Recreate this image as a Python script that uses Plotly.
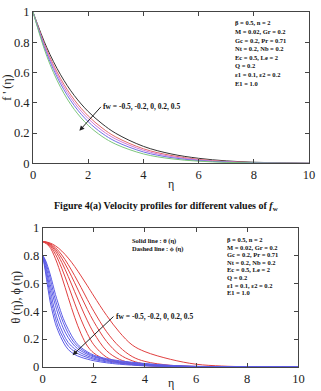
import plotly.graph_objects as go

W, H = 321, 391

# ---- Top chart: velocity profiles f'(eta) ----
eta_top = [0, 0.5, 1, 1.5, 2, 2.5, 3, 4, 5, 6, 7, 8, 9, 10]
fp_black = [1, 0.765, 0.585, 0.447, 0.342, 0.262, 0.198, 0.112, 0.062, 0.033, 0.016, 0.007, 0.003, 0]
fp_red = [1, 0.748, 0.560, 0.419, 0.313, 0.234, 0.174, 0.096, 0.052, 0.026, 0.012, 0.005, 0.002, 0]
fp_magenta = [1, 0.737, 0.543, 0.400, 0.295, 0.217, 0.160, 0.086, 0.045, 0.022, 0.010, 0.004, 0.001, 0]
fp_blue = [1, 0.724, 0.525, 0.380, 0.275, 0.199, 0.144, 0.075, 0.038, 0.018, 0.008, 0.003, 0.001, 0]
fp_green = [1, 0.708, 0.502, 0.355, 0.251, 0.178, 0.126, 0.062, 0.030, 0.014, 0.006, 0.002, 0.001, 0]
top_series = [fp_black, fp_red, fp_magenta, fp_blue, fp_green]
top_colors = ["#333333", "#e06a6a", "#d27ad6", "#6f6fe6", "#7cc47c"]

# ---- Bottom chart: theta (red) and phi (blue) ----
eta_theta = [0, 0.25, 0.5, 0.75, 1.0, 1.25, 1.5, 1.75, 2.0, 2.5, 3.0, 3.5, 4.0, 5.0, 6.0, 7.0, 8.0, 10.0]
theta_1 = [0.9, 0.867, 0.776, 0.645, 0.498, 0.357, 0.238, 0.150, 0.100, 0.050, 0.030, 0.018, 0.010, 0.004, 0.001, 0, 0, 0]
theta_2 = [0.9, 0.876, 0.808, 0.706, 0.584, 0.458, 0.340, 0.239, 0.159, 0.070, 0.035, 0.020, 0.012, 0.005, 0.002, 0.001, 0, 0]
theta_3 = [0.9, 0.882, 0.830, 0.749, 0.649, 0.540, 0.432, 0.331, 0.244, 0.117, 0.055, 0.028, 0.015, 0.006, 0.002, 0.001, 0, 0]
theta_4 = [0.9, 0.886, 0.844, 0.779, 0.697, 0.604, 0.507, 0.412, 0.325, 0.183, 0.091, 0.045, 0.022, 0.008, 0.003, 0.001, 0, 0]
theta_5 = [0.9, 0.888, 0.856, 0.803, 0.734, 0.655, 0.571, 0.483, 0.400, 0.253, 0.145, 0.075, 0.040, 0.012, 0.004, 0.001, 0, 0]
theta_6 = [0.9, 0.892, 0.869, 0.831, 0.781, 0.721, 0.653, 0.582, 0.509, 0.370, 0.250, 0.158, 0.110, 0.055, 0.020, 0.007, 0.002, 0]
theta_series = [theta_1, theta_2, theta_3, theta_4, theta_5, theta_6]

eta_phi = [0, 0.1, 0.2, 0.3, 0.4, 0.5, 0.6, 0.8, 1.0, 1.25, 1.5, 2.0, 2.5, 3, 4, 5, 6, 8, 10]
phi_1 = [0.8, 0.69, 0.57, 0.46, 0.38, 0.31, 0.26, 0.18, 0.125, 0.09, 0.07, 0.045, 0.03, 0.02, 0.008, 0.003, 0.001, 0, 0]
phi_2 = [0.8, 0.71, 0.61, 0.50, 0.42, 0.35, 0.29, 0.21, 0.15, 0.11, 0.085, 0.055, 0.037, 0.026, 0.011, 0.004, 0.002, 0, 0]
phi_3 = [0.8, 0.73, 0.64, 0.55, 0.46, 0.39, 0.33, 0.24, 0.175, 0.13, 0.10, 0.063, 0.043, 0.031, 0.014, 0.006, 0.002, 0, 0]
phi_4 = [0.8, 0.75, 0.67, 0.59, 0.51, 0.44, 0.38, 0.28, 0.21, 0.15, 0.115, 0.072, 0.05, 0.036, 0.018, 0.008, 0.003, 0.001, 0]
phi_5 = [0.8, 0.76, 0.70, 0.63, 0.55, 0.48, 0.42, 0.32, 0.24, 0.17, 0.128, 0.078, 0.055, 0.04, 0.021, 0.01, 0.004, 0.001, 0]
phi_6 = [0.8, 0.77, 0.72, 0.66, 0.59, 0.52, 0.46, 0.35, 0.27, 0.19, 0.14, 0.085, 0.06, 0.045, 0.025, 0.012, 0.005, 0.001, 0]
phi_series = [phi_1, phi_2, phi_3, phi_4, phi_5, phi_6]

x_ticks = [0, 2, 4, 6, 8, 10]
y_ticks = [0, 0.2, 0.4, 0.6, 0.8, 1]
y_tick_text = ["0", "0.2", "0.4", "0.6", "0.8", "1"]

param_lines = ["β = 0.5, n = 2", "M = 0.02, Gr = 0.2", "Gc = 0.2, Pr = 0.71",
               "Nt = 0.2, Nb = 0.2", "Ec = 0.5, Le = 2", "Q = 0.2",
               "ε1 = 0.1, ε2 = 0.2", "E1 = 1.0"]
legend_lines = ["Solid line : θ (η)", "Dashed line : ϕ (η)"]
fw_label = "fw = -0.5, -0.2, 0, 0.2, 0.5"
caption = "Figure 4(a) Velocity profiles for different values of <i>f</i><sub>w</sub>"

SERIF = "Liberation Serif"

fig = go.Figure()
for ys, c in zip(top_series, top_colors):
    fig.add_trace(go.Scatter(x=eta_top, y=ys, mode="lines", line=dict(color=c, width=1, shape="spline"),
                             xaxis="x", yaxis="y", showlegend=False, hoverinfo="skip"))
for ys in theta_series:
    fig.add_trace(go.Scatter(x=eta_theta, y=ys, mode="lines", line=dict(color="#e04040", width=1, shape="spline"),
                             xaxis="x2", yaxis="y2", showlegend=False, hoverinfo="skip"))
for ys in phi_series:
    fig.add_trace(go.Scatter(x=eta_phi, y=ys, mode="lines", line=dict(color="#5c5ce6", width=1, shape="spline"),
                             xaxis="x2", yaxis="y2", showlegend=False, hoverinfo="skip"))

ML, MR, MT, MB = 30, 5, 10, 22
PW = W - ML - MR
PH = H - MT - MB

def px(xp):
    return (xp - ML) / PW

def py(yp):
    return (H - MB - yp) / PH

tfont = dict(family=SERIF, size=12.5, color="#222")
axis_common = dict(showline=True, linecolor="#444", linewidth=1, mirror="ticks", ticks="inside",
                   ticklen=4, tickcolor="#444", showgrid=False, zeroline=False, tickfont=tfont,
                   ticklabeloverflow="allow")
title_font = dict(family=SERIF, size=12, color="#222")

TOP_L, TOP_R, TOP_T, TOP_B = 30, 315, 10, 163
BOT_L, BOT_R, BOT_T, BOT_B = 40, 304, 228, 369

fig.update_layout(
    width=W, height=H, autosize=False,
    margin=dict(l=ML, r=MR, t=MT, b=MB),
    paper_bgcolor="white", plot_bgcolor="white",
    xaxis=dict(domain=[px(TOP_L), px(TOP_R)], anchor="y", range=[0, 10], tickvals=x_ticks, **axis_common),
    yaxis=dict(domain=[py(TOP_B), py(TOP_T)], anchor="x", range=[0, 1], tickmode="array",
               tickvals=y_ticks, ticktext=y_tick_text, showticklabels=True,
               title=dict(text="f ' (η)", font=title_font, standoff=0), **axis_common),
    xaxis2=dict(domain=[px(BOT_L), px(BOT_R)], anchor="y2", range=[0, 10], tickvals=x_ticks, **axis_common),
    yaxis2=dict(domain=[py(BOT_B), py(BOT_T)], anchor="x2", range=[0, 1], tickmode="array",
                tickvals=y_ticks, ticktext=y_tick_text, showticklabels=True,
                title=dict(text="θ (η), ϕ (η)", font=title_font, standoff=0), **axis_common),
)

ann = []
small = dict(family=SERIF, size=6.5, color="#111")
for i, line in enumerate(param_lines):
    ann.append(dict(xref="paper", yref="paper", x=px(236), y=py(21 + i * 8.7), xanchor="left", yanchor="middle",
                    text="<b>" + line + "</b>", showarrow=False, font=small))
    ann.append(dict(xref="paper", yref="paper", x=px(228), y=py(240 + i * 7.7), xanchor="left", yanchor="middle",
                    text="<b>" + line + "</b>", showarrow=False, font=small))
for i, line in enumerate(legend_lines):
    ann.append(dict(xref="paper", yref="paper", x=px(130), y=py(242 + i * 8), xanchor="left", yanchor="middle",
                    text="<b>" + line + "</b>", showarrow=False, font=small))
# fw labels carrying their own arrows (text box anchored at the arrow tail)
fw_font = dict(family=SERIF, size=7.5, color="#111")
ann.append(dict(xref="x", yref="y", x=1.68, y=0.215, axref="x", ayref="y", ax=2.46, ay=0.373,
                xanchor="left", yanchor="middle", text="<b>" + fw_label + "</b>", font=fw_font,
                showarrow=True, arrowhead=2, arrowsize=1, arrowwidth=1, arrowcolor="#222"))
ann.append(dict(xref="x2", yref="y2", x=1.17, y=0.085, axref="x2", ayref="y2", ax=2.77, ay=0.362,
                xanchor="left", yanchor="middle", text="<b>" + fw_label + "</b>", font=fw_font,
                showarrow=True, arrowhead=2, arrowsize=1, arrowwidth=1, arrowcolor="#222"))
ann.append(dict(xref="paper", yref="paper", x=px(172), y=py(184), xanchor="center", yanchor="middle",
                text="η", showarrow=False, font=title_font))
ann.append(dict(xref="paper", yref="paper", x=px(172), y=py(385), xanchor="center", yanchor="middle",
                text="η", showarrow=False, font=title_font))
ann.append(dict(xref="paper", yref="paper", x=px(168), y=py(207), xanchor="center", yanchor="middle",
                text="<b>" + caption + "</b>", showarrow=False, font=dict(family=SERIF, size=10, color="#111")))
fig.update_layout(annotations=ann)

fig.write_html("out.html")
